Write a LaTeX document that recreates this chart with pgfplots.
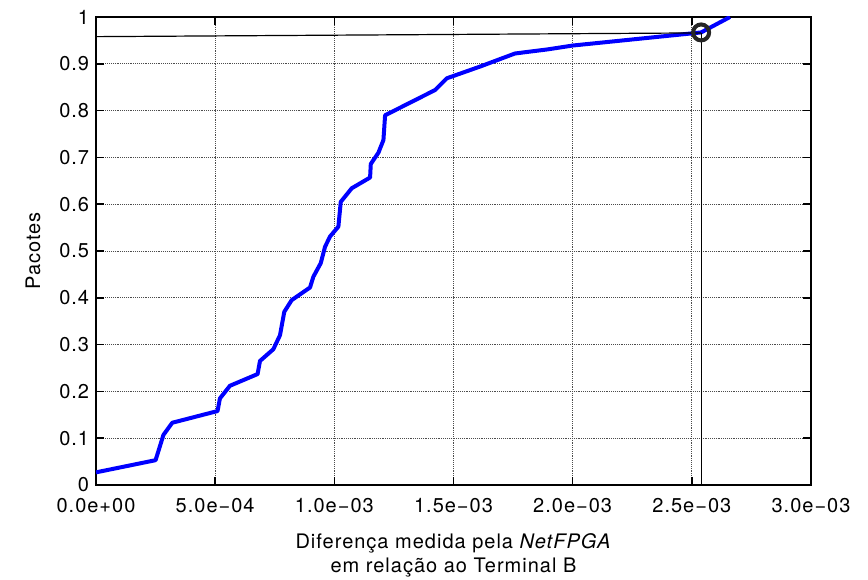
\documentclass[border=0pt]{standalone}
\usepackage{fontspec}
\setmainfont{TeX Gyre Heros}[LetterSpace=5]
\usepackage{pgfplots}
\pgfplotsset{compat=1.18}
\usetikzlibrary{calc}

\definecolor{cdfblue}{rgb}{0,0,1}

\begin{document}
\fontsize{15}{17.5}\selectfont
\begin{tikzpicture}

\begin{axis}[
name=ax,
scale only axis,
width=536.25pt,
height=351pt,
xmin=0, xmax=0.003,
ymin=0, ymax=1,
xtick={0,0.0005,0.001,0.0015,0.002,0.0025,0.003},
xticklabels={0.0e+00,5.0e−04,1.0e−03,1.5e−03,2.0e−03,2.5e−03,3.0e−03},
ytick={0,0.1,0.2,0.3,0.4,0.5,0.6,0.7,0.8,0.9,1},
yticklabels={0,0.1,0.2,0.3,0.4,0.5,0.6,0.7,0.8,0.9,1},
scaled x ticks=false,
tick align=inside,
tick pos=both,
major tick length=6pt,
tick style={black, line width=1.2pt},
axis line style={black, line width=1.2pt},
xmajorgrids, ymajorgrids,
grid style={black!70, densely dotted, line width=0.6pt},
xticklabel style={yshift=-4.5pt},
xlabel={Diferença medida pela \textit{NetFPGA}\\em relação ao Terminal B},
xlabel style={align=center, yshift=-6pt},
ylabel={Pacotes},
ylabel style={yshift=4pt},
clip=true,
]
% CDF
\addplot [cdfblue, line width=3pt, line join=round] table {
0.0000 0.027
0.00025 0.053
0.000283 0.107
0.00032 0.133
0.00051 0.158
0.00052 0.185
0.000562 0.212
0.000678 0.237
0.000688 0.265
0.000744 0.290
0.000772 0.320
0.00079 0.370
0.000821 0.395
0.000898 0.422
0.000912 0.445
0.000943 0.474
0.000961 0.509
0.000982 0.531
0.001017 0.552
0.001027 0.605
0.001073 0.634
0.00115 0.657
0.001153 0.686
0.001185 0.710
0.001206 0.737
0.001213 0.790
0.001423 0.844
0.001472 0.869
0.001611 0.894
0.001758 0.922
0.001898 0.931
0.0020 0.939
0.002539 0.967
0.00266 1.000
};
% marcação do ponto
\addplot [black, line width=0.9pt] table {
0 0.958
0.002539 0.966
};
\addplot [black, line width=0.9pt] table {
0.002539 0
0.002539 0.966
};
\addplot [only marks, mark=o, mark size=6pt, black!85, mark options={line width=3pt}] table {
0.002539 0.967
};
\end{axis}

\pgfresetboundingbox
\path[use as bounding box] ($(ax.south west)+(-72pt,-71.25pt)$) rectangle ($(ax.north east)+(42.75pt,12.75pt)$);
\end{tikzpicture}
\end{document}
